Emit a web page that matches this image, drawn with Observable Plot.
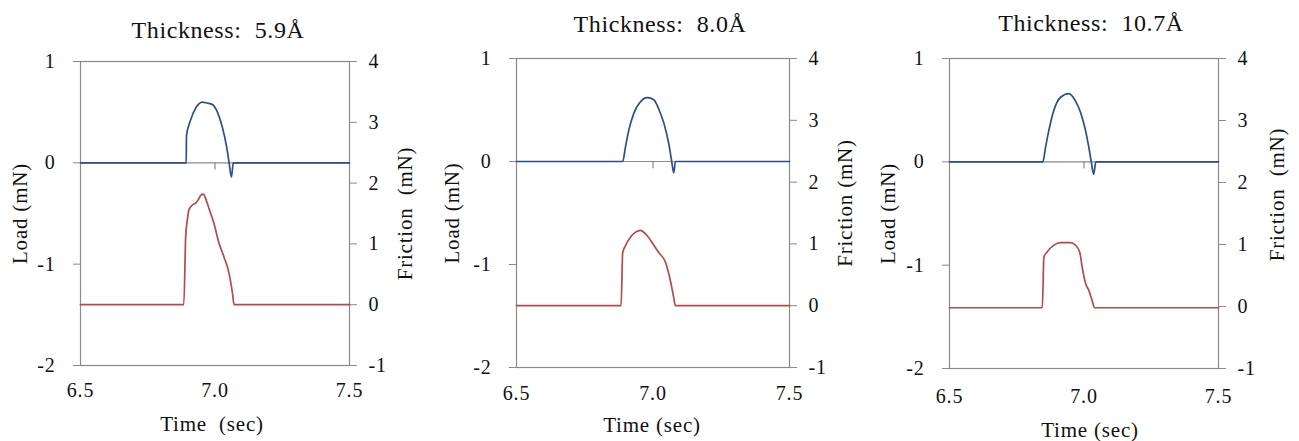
<!DOCTYPE html>
<html>
<head>
<meta charset="utf-8">
<script src="https://cdn.jsdelivr.net/npm/d3@7"></script>
<script src="https://cdn.jsdelivr.net/npm/@observablehq/plot@0.6"></script>
<style>
  html, body { margin: 0; padding: 0; background: #fff; }
  #root { position: relative; width: 1299px; height: 441px; overflow: hidden; background: #fff; }
  .title { position: absolute; width: 300px; text-align: center; font-family: "Liberation Serif", "Times New Roman", serif;
           font-size: 24px; line-height: 24px; letter-spacing: 0.6px; color: #111; white-space: pre; }
  svg.panel, svg.panel text { font-family: "Liberation Serif", "Times New Roman", serif; letter-spacing: 0.8px; }
</style>
</head>
<body>
<div id="root"></div>
<script>
// ---------- data ----------
const titles = ["Thickness:  5.9Å", "Thickness:  8.0Å", "Thickness:  10.7Å"];
const xTitles = ["Time  (sec)", "Time (sec)", "Time (sec)"];
const loadLabel = "Load (mN)";
const frictionLabels = ["Friction  (mN)", "Friction (mN)", "Friction  (mN)"];
const xTicks = [6.5, 7.0, 7.5];
const loadTicks = [-2, -1, 0, 1];
const frictionTicks = [-1, 0, 1, 2, 3, 4];

// Panel 1 (5.9 Å)
const load1T = [6.5, 6.893, 6.894, 6.909, 6.928, 6.953, 6.971, 6.990, 7.009, 7.027, 7.043, 7.052, 7.061, 7.068, 7.5];
const load1V = [0, 0, 0.27, 0.42, 0.54, 0.60, 0.59, 0.575, 0.50, 0.355, 0.16, 0.01, -0.14, 0, 0];
const fric1T = [6.5, 6.884, 6.891, 6.897, 6.903, 6.916, 6.928, 6.937, 6.947, 6.957, 6.965, 6.977, 6.996, 7.015, 7.033, 7.052, 7.065, 7.071, 7.5];
const fric1V = [0, 0, 1.12, 1.39, 1.56, 1.64, 1.67, 1.72, 1.80, 1.82, 1.75, 1.59, 1.34, 1.01, 0.79, 0.52, 0.19, 0, 0];

// Panel 2 (8.0 Å)
const load2T = [6.5, 6.889, 6.899, 6.911, 6.930, 6.954, 6.979, 7.003, 7.021, 7.040, 7.058, 7.068, 7.076, 7.082, 7.5];
const load2V = [0, 0, 0.14, 0.30, 0.47, 0.58, 0.62, 0.60, 0.51, 0.37, 0.17, 0.01, -0.11, 0, 0];
const fric2T = [6.5, 6.883, 6.889, 6.899, 6.918, 6.936, 6.954, 6.973, 6.997, 7.021, 7.046, 7.064, 7.076, 7.082, 7.5];
const fric2V = [0, 0, 0.86, 0.97, 1.11, 1.19, 1.22, 1.16, 1.02, 0.86, 0.70, 0.40, 0.13, 0, 0];

// Panel 3 (10.7 Å)
const load3T = [6.5, 6.847, 6.857, 6.869, 6.888, 6.913, 6.944, 6.968, 6.987, 7.006, 7.018, 7.027, 7.036, 7.044, 7.5];
const load3V = [0, 0, 0.14, 0.30, 0.50, 0.625, 0.66, 0.59, 0.48, 0.30, 0.14, 0, -0.12, 0, 0];
const fric3T = [6.5, 6.845, 6.851, 6.863, 6.888, 6.913, 6.950, 6.968, 6.984, 6.993, 7.006, 7.018, 7.030, 7.039, 7.5];
const fric3V = [-0.02, -0.02, 0.80, 0.88, 0.99, 1.03, 1.03, 0.99, 0.88, 0.64, 0.37, 0.26, 0.10, -0.02, -0.02];

// ---------- helpers ----------
const zip = (T, V) => T.map((t, i) => ({t, v: V[i]}));
const series = [
  {load: zip(load1T, load1V), fric: zip(fric1T, fric1V)},
  {load: zip(load2T, load2V), fric: zip(fric2T, fric2V)},
  {load: zip(load3T, load3V), fric: zip(fric3T, fric3V)}
];
// secondary axis: friction [-1,4] maps onto load [-2,1]
const toLoad = f => 0.6 * f - 1.4;
const toFric = l => (l + 1.4) / 0.6;

// ---------- layout ----------
const layout = [
  {left: 0,   width: 430, mL: 80, mR: 81, mT: 17, mB: 76, titleX: 218,  titleTop: 18, loadDx: -60, fricDx: 56, fricDy: 0,   xDx: -3, xDy: 59, xPad: 17},
  {left: 430, width: 430, mL: 86, mR: 71, mT: 14, mB: 74, titleX: 660,  titleTop: 12, loadDx: -64, fricDx: 56, fricDy: -10, xDx: -1, xDy: 58, xPad: 18},
  {left: 860, width: 439, mL: 89, mR: 81, mT: 14, mB: 73, titleX: 1091, titleTop: 11, loadDx: -61, fricDx: 59, fricDy: -19, xDx: 6,  xDy: 62, xPad: 20}
];

const root = document.getElementById("root");
const gray = "#8a8a8a";
const blue = "#2d4d8c";
const red = "#b54a4a";
const ink = "#111";
const font = "Liberation Serif";

layout.forEach((L, i) => {
  const title = document.createElement("div");
  title.className = "title";
  title.style.left = (L.titleX - 150) + "px";
  title.style.top = L.titleTop + "px";
  title.textContent = titles[i];
  root.appendChild(title);

  const chart = Plot.plot({
    width: L.width,
    height: 397,
    marginLeft: L.mL,
    marginRight: L.mR,
    marginTop: L.mT,
    marginBottom: L.mB,
    x: {domain: [6.5, 7.5]},
    y: {domain: [-2, 1]},
    style: "font-family: 'Liberation Serif', 'Times New Roman', serif; font-size: 20px; letter-spacing: 0.8px; color: #111; background: #fff; overflow: visible;",
    marks: [
      Plot.ruleY([0], {stroke: gray, strokeWidth: 1.2}),
      Plot.ruleX([7.0], {y1: 0, y2: -0.07, stroke: gray, strokeWidth: 1.2}),
      Plot.frame({stroke: gray, strokeWidth: 1.2}),
      Plot.axisY(loadTicks, {anchor: "left", tickSize: 7, tickPadding: 18, stroke: gray, fill: ink,
        tickFormat: d => String(d), label: null, fontSize: 20, fontFamily: font}),
      Plot.axisY(frictionTicks.map(toLoad), {anchor: "right", tickSize: 7, tickPadding: 12, stroke: gray, fill: ink,
        tickFormat: d => String(Math.round(toFric(d))), label: null, fontSize: 20, fontFamily: font}),
      Plot.axisX(xTicks, {anchor: "bottom", tickSize: 0, tickPadding: L.xPad, fill: ink,
        tickFormat: d3.format(".1f"), label: null, fontSize: 20, fontFamily: font}),
      Plot.line(series[i].load, {x: "t", y: "v", stroke: blue, strokeWidth: 1.7, curve: "monotone-x"}),
      Plot.line(series[i].fric, {x: "t", y: d => toLoad(d.v), stroke: red, strokeWidth: 1.7, curve: "monotone-x"}),
      Plot.text([loadLabel], {frameAnchor: "left", text: d => d, rotate: -90, dx: L.loadDx, fontSize: 21, fontFamily: font, fill: ink,
        textAnchor: "middle", lineAnchor: "middle"}),
      Plot.text([frictionLabels[i]], {frameAnchor: "right", text: d => d, rotate: -90, dx: L.fricDx, dy: L.fricDy, fontSize: 21, fontFamily: font, fill: ink,
        textAnchor: "middle", lineAnchor: "middle"}),
      Plot.text([xTitles[i]], {frameAnchor: "bottom", text: d => d, dx: L.xDx, dy: L.xDy, fontSize: 21, fontFamily: font, fill: ink,
        textAnchor: "middle", lineAnchor: "middle"})
    ]
  });
  chart.classList.add("panel");
  chart.style.position = "absolute";
  chart.style.left = L.left + "px";
  chart.style.top = "44px";
  root.appendChild(chart);
});
</script>
</body>
</html>
